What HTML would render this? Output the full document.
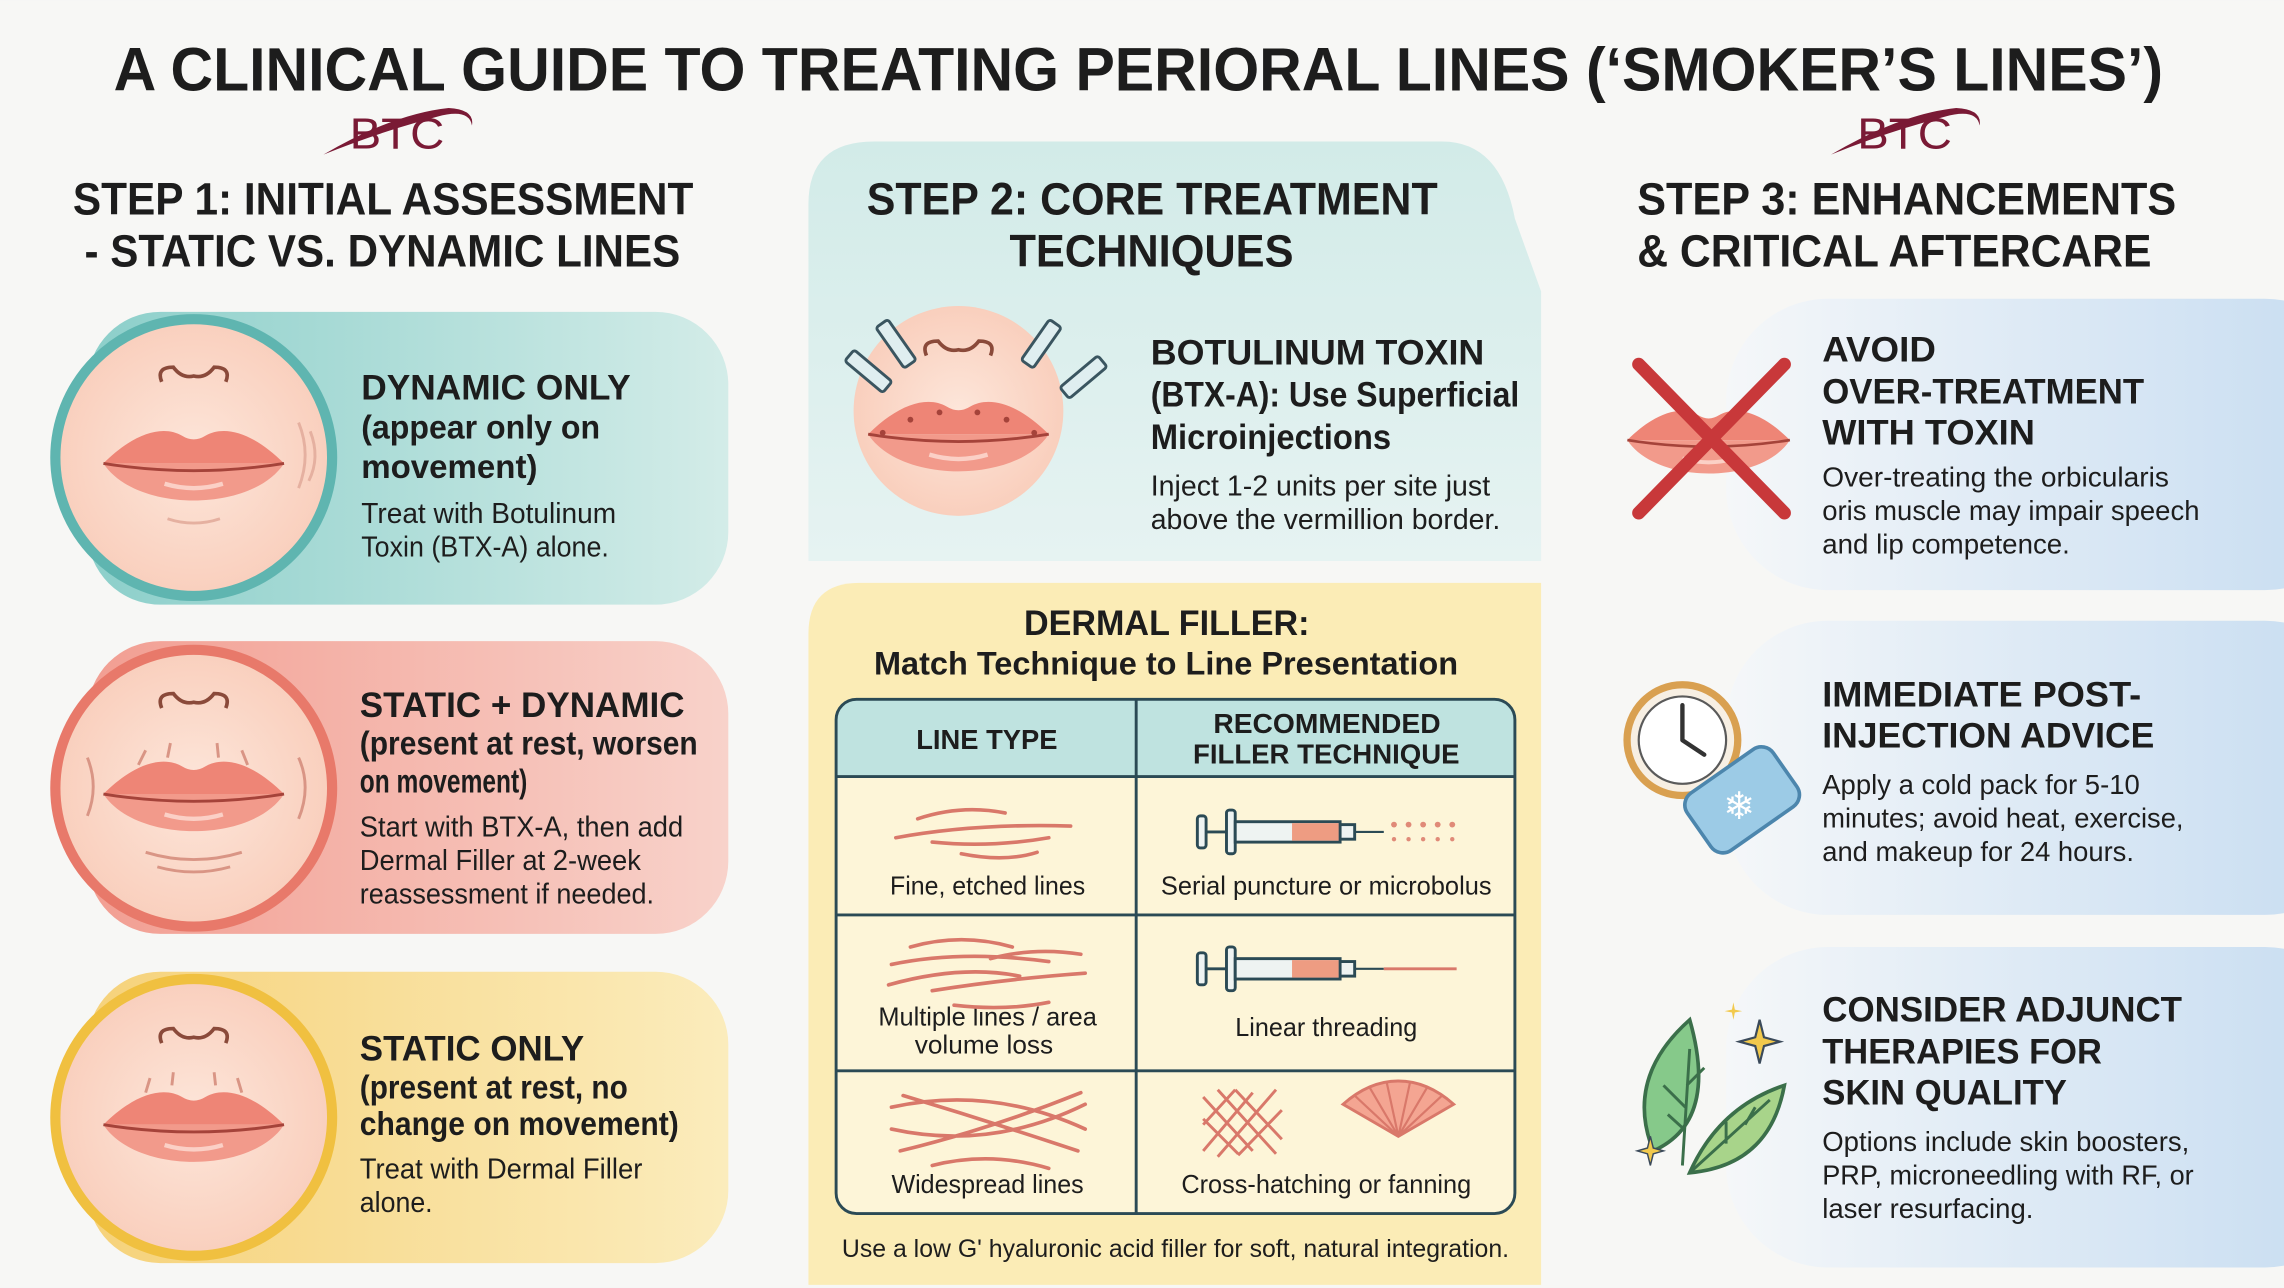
<!DOCTYPE html>
<html><head><meta charset="utf-8"><style>
html,body{margin:0;padding:0;background:#f7f7f5;}
svg{display:block;}
text{font-family:"Liberation Sans",sans-serif;fill:#1d1d1d;}
.h{font-weight:bold;}
</style></head><body>
<svg width="2284" height="1288" viewBox="0 0 1568 884" xmlns="http://www.w3.org/2000/svg">
<defs>
<linearGradient id="gT" x1="0" x2="1"><stop offset="0" stop-color="#8ccfca"/><stop offset="1" stop-color="#d3ece8"/></linearGradient>
<linearGradient id="gR" x1="0" x2="1"><stop offset="0" stop-color="#f29e92"/><stop offset="1" stop-color="#f8d2ca"/></linearGradient>
<linearGradient id="gY" x1="0" x2="1"><stop offset="0" stop-color="#f6d27a"/><stop offset="1" stop-color="#fbecbc"/></linearGradient>
<linearGradient id="gB" x1="0" x2="1"><stop offset="0" stop-color="#f5f7f9"/><stop offset="0.35" stop-color="#e3edf6"/><stop offset="1" stop-color="#c6dcf1"/></linearGradient>
<linearGradient id="gS2" x1="0" y1="0" x2="0" y2="1"><stop offset="0" stop-color="#d2ebe8"/><stop offset="1" stop-color="#e6f3f2"/></linearGradient>
<radialGradient id="face"><stop offset="0" stop-color="#fde6da"/><stop offset="1" stop-color="#f9cfbd"/></radialGradient>
<g id="lips">
<path d="M-62,0 C-42,-20 -22,-27 -8,-19 Q0,-14 8,-19 C22,-27 42,-20 62,0 Z" fill="#ee8576"/>
<path d="M-62,0 C-40,34 40,34 62,0 Z" fill="#f29a8b"/>
<path d="M-62,0 Q0,10 62,0" stroke="#a5433a" stroke-width="2" fill="none"/>
<path d="M-20,14 Q0,20 20,14" stroke="#fbd0c6" stroke-width="3" fill="none"/>
</g>
<g id="nose">
<path d="M-22,0 Q-26,-10 -14,-10 Q-8,-2 0,-4 Q8,-2 14,-10 Q26,-10 22,0" stroke="#8a4a3a" stroke-width="2.5" fill="none"/>
</g>
</defs>
<rect width="1568" height="884" fill="#f7f7f5"/>

<!-- Title -->
<text class="h" x="78" y="62" font-size="42" textLength="1407" lengthAdjust="spacingAndGlyphs">A CLINICAL GUIDE TO TREATING PERIORAL LINES (‘SMOKER’S LINES’)</text>
<g fill="#7a1a35">
<text x="240" y="102" font-family="Liberation Serif" font-size="30" style="fill:#7a1a35" textLength="65" lengthAdjust="spacingAndGlyphs">BTC</text>
<path d="M222,106 Q262,90 300,80 Q322,74 324,86 Q326,75 308,74 Q270,78 222,106Z"/>
<text x="1275" y="102" font-family="Liberation Serif" font-size="30" style="fill:#7a1a35" textLength="65" lengthAdjust="spacingAndGlyphs">BTC</text>
<path d="M1257,106 Q1297,90 1335,80 Q1357,74 1359,86 Q1361,75 1343,74 Q1305,78 1257,106Z"/>
</g>

<!-- Step 2 teal panel -->
<path d="M555,140 Q555,97 600,97 L990,97 Q1030,97 1040,150 L1058,200 L1058,385 L555,385 Z" fill="url(#gS2)"/>
<!-- Step 2 yellow panel -->
<path d="M590,400 L1058,400 L1058,882 L555,882 L555,435 Q555,400 590,400 Z" fill="#fbecb6"/>

<!-- Step headings -->
<g class="h" font-size="31">
<text class="h" x="50" y="147" font-size="31" textLength="426" lengthAdjust="spacingAndGlyphs">STEP 1: INITIAL ASSESSMENT</text>
<text class="h" x="58" y="183" font-size="31" textLength="409" lengthAdjust="spacingAndGlyphs">- STATIC VS. DYNAMIC LINES</text>
<text class="h" x="595" y="147" font-size="31" textLength="392" lengthAdjust="spacingAndGlyphs">STEP 2: CORE TREATMENT</text>
<text class="h" x="693" y="183" font-size="31" textLength="195" lengthAdjust="spacingAndGlyphs">TECHNIQUES</text>
<text class="h" x="1124" y="147" font-size="31" textLength="370" lengthAdjust="spacingAndGlyphs">STEP 3: ENHANCEMENTS</text>
<text class="h" x="1124" y="183" font-size="31" textLength="353" lengthAdjust="spacingAndGlyphs">&amp; CRITICAL AFTERCARE</text>
</g>

<!-- Step 1 cards -->
<rect x="60" y="214" width="440" height="201" rx="50" fill="url(#gT)"/>
<circle cx="133" cy="314" r="95" fill="url(#face)" stroke="#5fb5b0" stroke-width="7"/>
<use href="#nose" x="133" y="262"/>
<use href="#lips" x="133" y="318"/>
<path d="M205,290 Q214,312 205,335 M213,296 Q220,314 212,330" stroke="#e5b0a0" stroke-width="2" fill="none"/>
<path d="M115,356 Q133,362 151,356" stroke="#e5b0a0" stroke-width="2" fill="none"/>

<rect x="60" y="440" width="440" height="201" rx="50" fill="url(#gR)"/>
<circle cx="133" cy="541" r="95" fill="url(#face)" stroke="#e8796a" stroke-width="7"/>
<use href="#nose" x="133" y="486"/>
<use href="#lips" x="133" y="545"/>
<path d="M95,525 L100,515 M115,520 L117,510 M150,520 L149,510 M170,525 L166,515 M60,520 Q68,540 60,560 M205,520 Q214,540 205,562 M100,585 Q133,595 166,585 M108,595 Q133,602 158,595" stroke="#d99585" stroke-width="2" fill="none"/>

<rect x="60" y="667" width="440" height="200" rx="50" fill="url(#gY)"/>
<circle cx="133" cy="767" r="95" fill="url(#face)" stroke="#f0c040" stroke-width="7"/>
<use href="#nose" x="133" y="716"/>
<use href="#lips" x="133" y="772"/>
<path d="M100,750 L103,740 M118,745 L119,736 M148,745 L147,736 M166,750 L163,740" stroke="#d99585" stroke-width="2" fill="none"/>

<g font-size="24">
<text class="h" x="248" y="274" font-size="24" textLength="185" lengthAdjust="spacingAndGlyphs">DYNAMIC ONLY</text>
<text class="h" x="248" y="301" font-size="23" textLength="164" lengthAdjust="spacingAndGlyphs">(appear only on</text>
<text class="h" x="248" y="328" font-size="23" textLength="121" lengthAdjust="spacingAndGlyphs">movement)</text>
<text x="248" y="359" font-size="20" textLength="175" lengthAdjust="spacingAndGlyphs">Treat with Botulinum</text>
<text x="248" y="382" font-size="20" textLength="170" lengthAdjust="spacingAndGlyphs">Toxin (BTX-A) alone.</text>

<text class="h" x="247" y="492" font-size="24" textLength="223" lengthAdjust="spacingAndGlyphs">STATIC + DYNAMIC</text>
<text class="h" x="247" y="518" font-size="23" textLength="232" lengthAdjust="spacingAndGlyphs">(present at rest, worsen</text>
<text class="h" x="247" y="544" font-size="23" textLength="115" lengthAdjust="spacingAndGlyphs">on movement)</text>
<text x="247" y="574" font-size="20" textLength="222" lengthAdjust="spacingAndGlyphs">Start with BTX-A, then add</text>
<text x="247" y="597" font-size="20" textLength="193" lengthAdjust="spacingAndGlyphs">Dermal Filler at 2-week</text>
<text x="247" y="620" font-size="20" textLength="202" lengthAdjust="spacingAndGlyphs">reassessment if needed.</text>

<text class="h" x="247" y="728" font-size="24" textLength="154" lengthAdjust="spacingAndGlyphs">STATIC ONLY</text>
<text class="h" x="247" y="754" font-size="23" textLength="184" lengthAdjust="spacingAndGlyphs">(present at rest, no</text>
<text class="h" x="247" y="779" font-size="23" textLength="219" lengthAdjust="spacingAndGlyphs">change on movement)</text>
<text x="247" y="809" font-size="20" textLength="194" lengthAdjust="spacingAndGlyphs">Treat with Dermal Filler</text>
<text x="247" y="832" font-size="20" textLength="50" lengthAdjust="spacingAndGlyphs">alone.</text>
</g>

<!-- Step 2 botox -->
<circle cx="658" cy="282" r="72" fill="url(#face)"/>
<use href="#nose" x="658" y="244"/>
<use href="#lips" x="658" y="298"/>
<g fill="#a5433a"><circle cx="625" cy="288" r="2"/><circle cx="645" cy="283" r="2"/><circle cx="671" cy="283" r="2"/><circle cx="691" cy="288" r="2"/><circle cx="606" cy="297" r="2"/><circle cx="710" cy="297" r="2"/></g>
<g stroke="#3a5560" stroke-width="2" fill="#dfeef0">
<rect x="-5" y="-22" width="10" height="34" rx="2" transform="translate(600,258) rotate(-50)"/>
<rect x="-5" y="-22" width="10" height="34" rx="2" transform="translate(618,240) rotate(-35)"/>
<rect x="-5" y="-22" width="10" height="34" rx="2" transform="translate(712,240) rotate(35)"/>
<rect x="-5" y="-22" width="10" height="34" rx="2" transform="translate(740,262) rotate(50)"/>
</g>
<text class="h" x="790" y="250" font-size="24" textLength="229" lengthAdjust="spacingAndGlyphs">BOTULINUM TOXIN</text>
<text class="h" x="790" y="279" font-size="24" textLength="253" lengthAdjust="spacingAndGlyphs">(BTX-A): Use Superficial</text>
<text class="h" x="790" y="308" font-size="24" textLength="165" lengthAdjust="spacingAndGlyphs">Microinjections</text>
<text x="790" y="340" font-size="20" textLength="233" lengthAdjust="spacingAndGlyphs">Inject 1-2 units per site just</text>
<text x="790" y="363" font-size="20" textLength="240" lengthAdjust="spacingAndGlyphs">above the vermillion border.</text>

<!-- Dermal filler -->
<text class="h" x="703" y="436" font-size="24" textLength="196" lengthAdjust="spacingAndGlyphs">DERMAL FILLER:</text>
<text class="h" x="600" y="463" font-size="22" textLength="401" lengthAdjust="spacingAndGlyphs">Match Technique to Line Presentation</text>
<rect x="574" y="480" width="466" height="353" rx="14" fill="#fdf5d8"/>
<path d="M574,533 L574,494 Q574,480 588,480 L1026,480 Q1040,480 1040,494 L1040,533 Z" fill="#bfe3e0"/>
<rect x="574" y="480" width="466" height="353" rx="14" fill="none" stroke="#2b4a55" stroke-width="2"/>
<g stroke="#2b4a55" stroke-width="2"><line x1="780" y1="480" x2="780" y2="833"/><line x1="574" y1="533" x2="1040" y2="533"/><line x1="574" y1="628" x2="1040" y2="628"/><line x1="574" y1="735" x2="1040" y2="735"/></g>
<text class="h" x="629" y="514" font-size="19" textLength="97" lengthAdjust="spacingAndGlyphs">LINE TYPE</text>
<text class="h" x="833" y="503" font-size="19" textLength="156" lengthAdjust="spacingAndGlyphs">RECOMMENDED</text>
<text class="h" x="819" y="524" font-size="19" textLength="183" lengthAdjust="spacingAndGlyphs">FILLER TECHNIQUE</text>
<g font-size="18">
<text x="611" y="614" font-size="18" textLength="134" lengthAdjust="spacingAndGlyphs">Fine, etched lines</text>
<text x="797" y="614" font-size="18" textLength="227" lengthAdjust="spacingAndGlyphs">Serial puncture or microbolus</text>
<text x="603" y="704" font-size="18" textLength="150" lengthAdjust="spacingAndGlyphs">Multiple lines / area</text>
<text x="628" y="723" font-size="18" textLength="95" lengthAdjust="spacingAndGlyphs">volume loss</text>
<text x="848" y="711" font-size="18" textLength="125" lengthAdjust="spacingAndGlyphs">Linear threading</text>
<text x="612" y="819" font-size="18" textLength="132" lengthAdjust="spacingAndGlyphs">Widespread lines</text>
<text x="811" y="819" font-size="18" textLength="199" lengthAdjust="spacingAndGlyphs">Cross-hatching or fanning</text>
</g>
<text x="578" y="863" font-size="17" textLength="458" lengthAdjust="spacingAndGlyphs">Use a low G' hyaluronic acid filler for soft, natural integration.</text>
<!-- line illustrations -->
<g stroke="#d9786a" stroke-width="2.5" fill="none" stroke-linecap="round">
<path d="M630,562 Q660,552 690,558 M615,575 Q670,565 735,567 M640,578 Q680,582 720,575 M660,586 Q690,592 712,585"/>
<path d="M625,650 Q660,640 695,650 M612,662 Q660,652 720,660 M680,658 Q710,650 742,655 M610,676 Q660,662 700,670 M640,680 Q690,672 745,668 M655,690 Q690,694 720,688"/>
<path d="M612,760 Q680,745 745,775 M612,775 Q680,790 745,758 M620,752 Q680,770 740,790 M618,790 Q680,775 742,750 M640,800 Q680,790 720,802"/>
</g>
<g transform="translate(0,0)">
<g stroke="#2b4a55" stroke-width="2" fill="#eef3f2">
<rect x="822" y="560" width="6" height="22" rx="2"/><rect x="842" y="556" width="6" height="30" rx="2"/>
<rect x="848" y="564" width="72" height="14"/><rect x="920" y="566" width="10" height="10"/>
<rect x="822" y="654" width="6" height="22" rx="2"/><rect x="842" y="650" width="6" height="30" rx="2"/>
<rect x="848" y="658" width="72" height="14"/><rect x="920" y="660" width="10" height="10"/>
</g>
<rect x="887" y="565" width="32" height="12" fill="#ee9c82"/><rect x="887" y="659" width="32" height="12" fill="#ee9c82"/>
<line x1="828" y1="571" x2="842" y2="571" stroke="#2b4a55" stroke-width="2"/><line x1="828" y1="665" x2="842" y2="665" stroke="#2b4a55" stroke-width="2"/>
<line x1="930" y1="571" x2="950" y2="571" stroke="#2b4a55" stroke-width="1.5"/><line x1="930" y1="665" x2="950" y2="665" stroke="#2b4a55" stroke-width="1.5"/>
<line x1="950" y1="665" x2="1000" y2="665" stroke="#d9786a" stroke-width="2"/>
<g fill="#e08a78"><circle cx="957" cy="566" r="2"/><circle cx="967" cy="566" r="2"/><circle cx="977" cy="566" r="2"/><circle cx="987" cy="566" r="2"/><circle cx="997" cy="566" r="2"/><circle cx="957" cy="576" r="1.5"/><circle cx="967" cy="576" r="1.5"/><circle cx="977" cy="576" r="1.5"/><circle cx="987" cy="576" r="1.5"/><circle cx="997" cy="576" r="1.5"/></g>
<g stroke="#d9786a" stroke-width="2">
<path d="M826,753 L860,790 M836,748 L876,792 M848,748 L880,782 M826,768 L850,792 M826,790 L860,750 M836,794 L876,748 M850,793 L880,762 M826,772 L848,748"/>
</g>
<path d="M960,780 L922,758 Q940,742 960,742 Q980,742 998,758 Z" fill="#f4a592" stroke="#d9786a" stroke-width="2"/>
<path d="M960,780 L930,752 M960,780 L940,746 M960,780 L952,743 M960,780 L968,743 M960,780 L980,746 M960,780 L990,752" stroke="#d9786a" stroke-width="1.5"/>
</g>

<!-- Step 3 cards -->
<rect x="1185" y="205" width="440" height="200" rx="70" fill="url(#gB)"/>
<rect x="1185" y="426" width="440" height="202" rx="70" fill="url(#gB)"/>
<rect x="1185" y="650" width="440" height="220" rx="70" fill="url(#gB)"/>

<use href="#lips" transform="translate(1173,302) scale(0.9)"/>
<path d="M1125,250 L1225,352 M1225,250 L1125,352" stroke="#c8383a" stroke-width="9" stroke-linecap="round"/>

<circle cx="1155" cy="508" r="38" fill="#f7efe3" stroke="#d9a050" stroke-width="5"/>
<circle cx="1155" cy="508" r="30" fill="#fff" stroke="#5a5a5a" stroke-width="1.5"/>
<path d="M1155,508 L1155,484 M1155,508 L1170,518" stroke="#333" stroke-width="3" stroke-linecap="round"/>
<rect x="1160" y="525" width="72" height="48" rx="10" transform="rotate(-35 1196 549)" fill="#9ccbe6" stroke="#4c86ad" stroke-width="2.5"/>
<text x="1183" y="562" font-size="26" style="fill:#ffffff">❄</text>

<path d="M1160,700 Q1115,740 1135,790 Q1180,770 1160,700 Z" fill="#86c98a" stroke="#3b6f4a" stroke-width="2.5"/>
<path d="M1155,800 L1160,720 M1157,760 L1142,745 M1158,745 L1170,733 M1156,775 L1145,765" stroke="#3b6f4a" stroke-width="2" fill="none"/>
<path d="M1160,805 Q1180,760 1225,745 Q1215,800 1160,805 Z" fill="#a8d48a" stroke="#3b6f4a" stroke-width="2.5"/>
<path d="M1160,805 L1215,755 M1185,785 L1185,770 M1198,772 L1205,760" stroke="#3b6f4a" stroke-width="2" fill="none"/>
<path d="M1208,700 L1211,712 L1222,715 L1211,718 L1208,730 L1205,718 L1194,715 L1205,712 Z" fill="#f2c94c" stroke="#3b4a5a" stroke-width="1.5"/>
<path d="M1133,780 L1135,788 L1142,790 L1135,792 L1133,800 L1131,792 L1124,790 L1131,788 Z" fill="#f2c94c" stroke="#3b4a5a" stroke-width="1"/>
<path d="M1190,688 L1191,693 L1196,694 L1191,695 L1190,700 L1189,695 L1184,694 L1189,693 Z" fill="#f2c94c"/>

<text class="h" x="1251" y="248" font-size="24" textLength="78" lengthAdjust="spacingAndGlyphs">AVOID</text>
<text class="h" x="1251" y="277" font-size="24" textLength="221" lengthAdjust="spacingAndGlyphs">OVER-TREATMENT</text>
<text class="h" x="1251" y="305" font-size="24" textLength="146" lengthAdjust="spacingAndGlyphs">WITH TOXIN</text>
<text x="1251" y="334" font-size="19" textLength="238" lengthAdjust="spacingAndGlyphs">Over-treating the orbicularis</text>
<text x="1251" y="357" font-size="19" textLength="259" lengthAdjust="spacingAndGlyphs">oris muscle may impair speech</text>
<text x="1251" y="380" font-size="19" textLength="170" lengthAdjust="spacingAndGlyphs">and lip competence.</text>

<text class="h" x="1251" y="485" font-size="24" textLength="219" lengthAdjust="spacingAndGlyphs">IMMEDIATE POST-</text>
<text class="h" x="1251" y="513" font-size="24" textLength="228" lengthAdjust="spacingAndGlyphs">INJECTION ADVICE</text>
<text x="1251" y="545" font-size="19" textLength="218" lengthAdjust="spacingAndGlyphs">Apply a cold pack for 5-10</text>
<text x="1251" y="568" font-size="19" textLength="248" lengthAdjust="spacingAndGlyphs">minutes; avoid heat, exercise,</text>
<text x="1251" y="591" font-size="19" textLength="214" lengthAdjust="spacingAndGlyphs">and makeup for 24 hours.</text>

<text class="h" x="1251" y="701" font-size="24" textLength="247" lengthAdjust="spacingAndGlyphs">CONSIDER ADJUNCT</text>
<text class="h" x="1251" y="730" font-size="24" textLength="192" lengthAdjust="spacingAndGlyphs">THERAPIES FOR</text>
<text class="h" x="1251" y="758" font-size="24" textLength="168" lengthAdjust="spacingAndGlyphs">SKIN QUALITY</text>
<text x="1251" y="790" font-size="19" textLength="252" lengthAdjust="spacingAndGlyphs">Options include skin boosters,</text>
<text x="1251" y="813" font-size="19" textLength="255" lengthAdjust="spacingAndGlyphs">PRP, microneedling with RF, or</text>
<text x="1251" y="836" font-size="19" textLength="145" lengthAdjust="spacingAndGlyphs">laser resurfacing.</text>
</svg>
</body></html>
